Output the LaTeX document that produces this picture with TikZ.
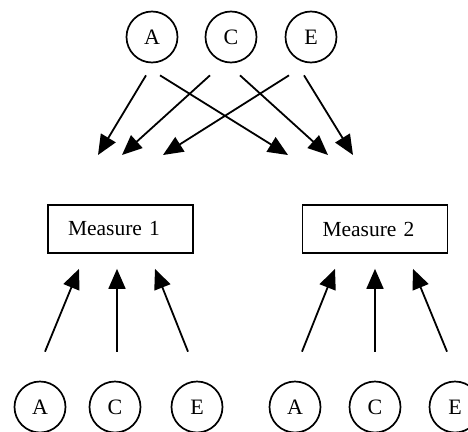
\documentclass[tikz,border=0pt]{standalone}
\usepackage{fontspec}
\setmainfont{Liberation Serif}
\usetikzlibrary{arrows.meta}
\tikzset{
  trait/.style={circle,draw,line width=1.7pt,minimum size=51pt,inner sep=0pt,font=\fontsize{22}{26}\selectfont},
  measure/.style={draw,line width=1.7pt,text width=105pt,minimum height=48pt,inner xsep=20pt,align=left,font=\fontsize{21.5}{25}\selectfont},
  arr/.style={line width=1.8pt,-{Triangle[length=20pt,width=17pt]}}
}
\begin{document}
\begin{tikzpicture}[x=1pt,y=-1pt]
\useasboundingbox (0,0) rectangle (468,431);
% top traits
\node[trait] (tA) at (152,37) {A};
\node[trait] (tC) at (231,37) {C};
\node[trait] (tE) at (311,37) {E};
% measures
\node[measure] (m1) at (120.5,229) {Measure 1};
\node[measure] (m2) at (375,229) {Measure 2};
% bottom traits
\node[trait] (bA1) at (40,407) {A};
\node[trait] (bC1) at (115,407) {C};
\node[trait] (bE1) at (197,407) {E};
\node[trait] (bA2) at (295,407) {A};
\node[trait] (bC2) at (375,407) {C};
\node[trait] (bE2) at (455,407) {E};
% free ends of the crossing arrows
\coordinate (h1) at (98,155);
\coordinate (h2) at (122,155);
\coordinate (h3) at (163,155);
\coordinate (h4) at (288,155);
\coordinate (h5) at (328,155);
\coordinate (h6) at (353,155);
\draw[arr] ([xshift=-6pt,yshift=-12pt]tA.south) -- (h1);
\draw[arr] ([xshift=8pt,yshift=-12pt]tA.south) -- (h4);
\draw[arr] ([xshift=-21pt,yshift=-12pt]tC.south) -- (h2);
\draw[arr] ([xshift=9pt,yshift=-12pt]tC.south) -- (h5);
\draw[arr] ([xshift=-22pt,yshift=-12pt]tE.south) -- (h3);
\draw[arr] ([xshift=-7pt,yshift=-12pt]tE.south) -- (h6);
% arrows up to the measures
\draw[arr] ([xshift=5pt,yshift=29pt]bA1.north) -- ([xshift=-41.5pt,yshift=-15pt]m1.south);
\draw[arr] ([xshift=2pt,yshift=29pt]bC1.north) -- ([xshift=-3.5pt,yshift=-15pt]m1.south);
\draw[arr] ([xshift=-9pt,yshift=29pt]bE1.north) -- ([xshift=34.5pt,yshift=-15pt]m1.south);
\draw[arr] ([xshift=7pt,yshift=29pt]bA2.north) -- ([xshift=-40pt,yshift=-15pt]m2.south);
\draw[arr] ([yshift=29pt]bC2.north) -- ([yshift=-15pt]m2.south);
\draw[arr] ([xshift=-8pt,yshift=29pt]bE2.north) -- ([xshift=38pt,yshift=-15pt]m2.south);
\end{tikzpicture}
\end{document}
